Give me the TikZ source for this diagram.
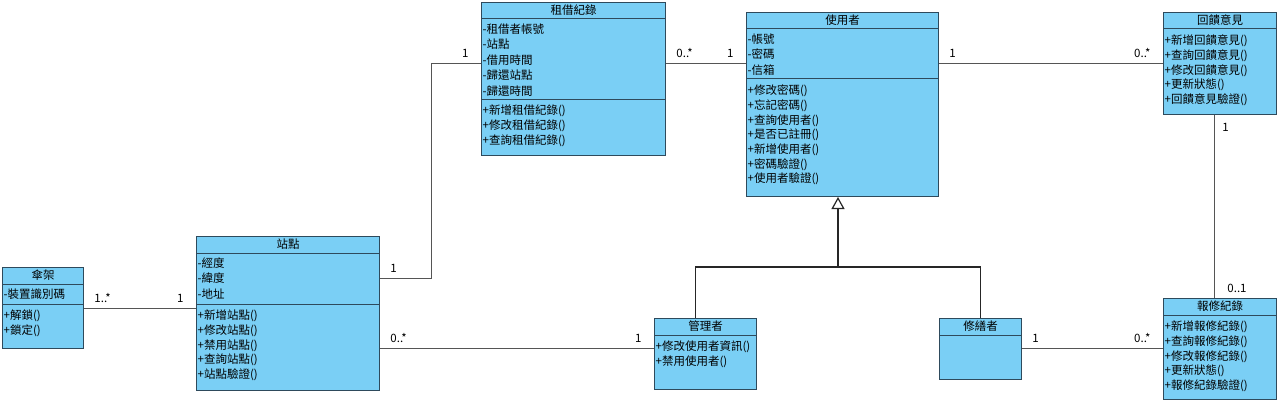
\documentclass[tikz,border=0pt]{standalone}
\usepackage{fontspec}
\newfontfamily\cjk{Noto Sans CJK TC}
\usepackage{tikz}
\usetikzlibrary{arrows.meta, calc}
\definecolor{classfill}{HTML}{7ACFF5}
\definecolor{classedge}{HTML}{2E4A5C}
\definecolor{linkgray}{HTML}{555555}
\tikzset{
  every node/.style={font=\cjk\fontsize{11.5}{13}\selectfont},
  classbox/.style={draw=classedge, fill=classfill, line width=1pt, rectangle, anchor=north west, inner sep=0pt},
  classname/.style={inner sep=0pt},
  classrule/.style={draw=classedge, line width=1pt},
  member/.style={anchor=west, inner sep=0pt, xshift=1.5pt},
  assoc/.style={draw=linkgray, line width=0.9pt},
  generalize/.style={draw=black!85, line width=1.2pt},
  mstart/.style={pos=0, anchor=south west, inner sep=0pt, xshift=10pt, yshift=5pt},
  mend/.style={pos=1, anchor=south east, inner sep=0pt, xshift=-12pt, yshift=5pt}
}
% name, top left, width, height, title, attributes, second rule, operations
\newcommand{\umlclass}[8]{%
  \node[classbox, minimum width=#3, minimum height=#4] (#1) at (#2) {};
  \node[classname] at ([yshift=-8.5pt]#1.north) {#5};
  \draw[classrule] ([yshift=-17pt]#1.north west) -- ([yshift=-17pt]#1.north east);
  \draw[classrule] ([yshift=-#7]#1.north west) -- ([yshift=-#7]#1.north east);
  \foreach \rowtext [count=\i] in {#6}
    \node[member] at ([yshift={-27pt-15.5pt*(\i-1)}]#1.north west) {\rowtext};
  \foreach \rowtext [count=\i] in {#8}
    \node[member] at ([yshift={-#7-12pt-14.7pt*(\i-1)}]#1.north west) {\rowtext};
}

\begin{document}
\begin{tikzpicture}[x=1pt, y=-1pt]
\useasboundingbox (0,0) rectangle (1280,404);

\umlclass{rack}{2,267}{81pt}{81pt}{傘架}{-裝置識別碼}{37pt}{+解鎖(),+鎖定()}
\umlclass{station}{196,236}{183pt}{154pt}{站點}{-經度,-緯度,-地址}{68pt}{+新增站點(),+修改站點(),+禁用站點(),+查詢站點(),+站點驗證()}
\umlclass{rental}{481,2}{184pt}{153pt}{租借紀錄}{-租借者帳號,-站點,-借用時間,-歸還站點,-歸還時間}{97pt}{+新增租借紀錄(),+修改租借紀錄(),+查詢租借紀錄()}
\umlclass{user}{746,12}{192pt}{184pt}{使用者}{-帳號,-密碼,-信箱}{67pt}{+修改密碼(),+忘記密碼(),+查詢使用者(),+是否已註冊(),+新增使用者(),+密碼驗證(),+使用者驗證()}
\umlclass{feedback}{1163,12}{113pt}{102pt}{回饋意見}{}{17pt}{+新增回饋意見(),+查詢回饋意見(),+修改回饋意見(),+更新狀態(),+回饋意見驗證()}
\umlclass{repair}{1163,298}{113pt}{101pt}{報修紀錄}{}{17pt}{+新增報修紀錄(),+查詢報修紀錄(),+修改報修紀錄(),+更新狀態(),+報修紀錄驗證()}
\umlclass{admin}{654,318}{102pt}{71pt}{管理者}{}{17pt}{+修改使用者資訊(),+禁用使用者()}
\umlclass{repairer}{939,318}{82pt}{61pt}{修繕者}{}{17pt}{}

\coordinate (row1) at (0,63);
\coordinate (row2) at (0,278);
\coordinate (row3) at (0,348);
\coordinate (row4) at (0,308);
\coordinate (col) at (1214,0);
\coordinate (fork) at (838,267);

\draw[assoc] (rack.east |- row4) -- (station.west |- row4) node[mstart] {1..*} node[mend] {1};
\draw[assoc] (station.east |- row2) -- ++(51,0) node[mstart] {1} |- (rental.west |- row1) node[mend] {1};
\draw[assoc] (rental.east |- row1) -- (user.west |- row1) node[mstart] {0..*} node[mend] {1};
\draw[assoc] (user.east |- row1) -- (feedback.west |- row1) node[mstart] {1} node[mend] {0..*};
\draw[assoc] (feedback.south -| col) -- (repair.north -| col)
  node[pos=0, anchor=north west, inner sep=0pt, xshift=8pt, yshift=-8pt] {1}
  node[pos=1, anchor=south west, inner sep=0pt, xshift=13pt, yshift=5pt] {0..1};
\draw[assoc] (station.east |- row3) -- (admin.west |- row3) node[mstart] {0..*} node[mend] {1};
\draw[assoc] (repairer.east |- row3) -- (repair.west |- row3) node[mstart] {1} node[mend] {0..*};

\draw[generalize, -{Triangle[open, length=12pt, width=13pt]}] (fork) -- (fork |- user.south);
\draw[generalize] ([xshift=-10pt]admin.north) |- (fork) -| (repairer.north);
\end{tikzpicture}
\end{document}
